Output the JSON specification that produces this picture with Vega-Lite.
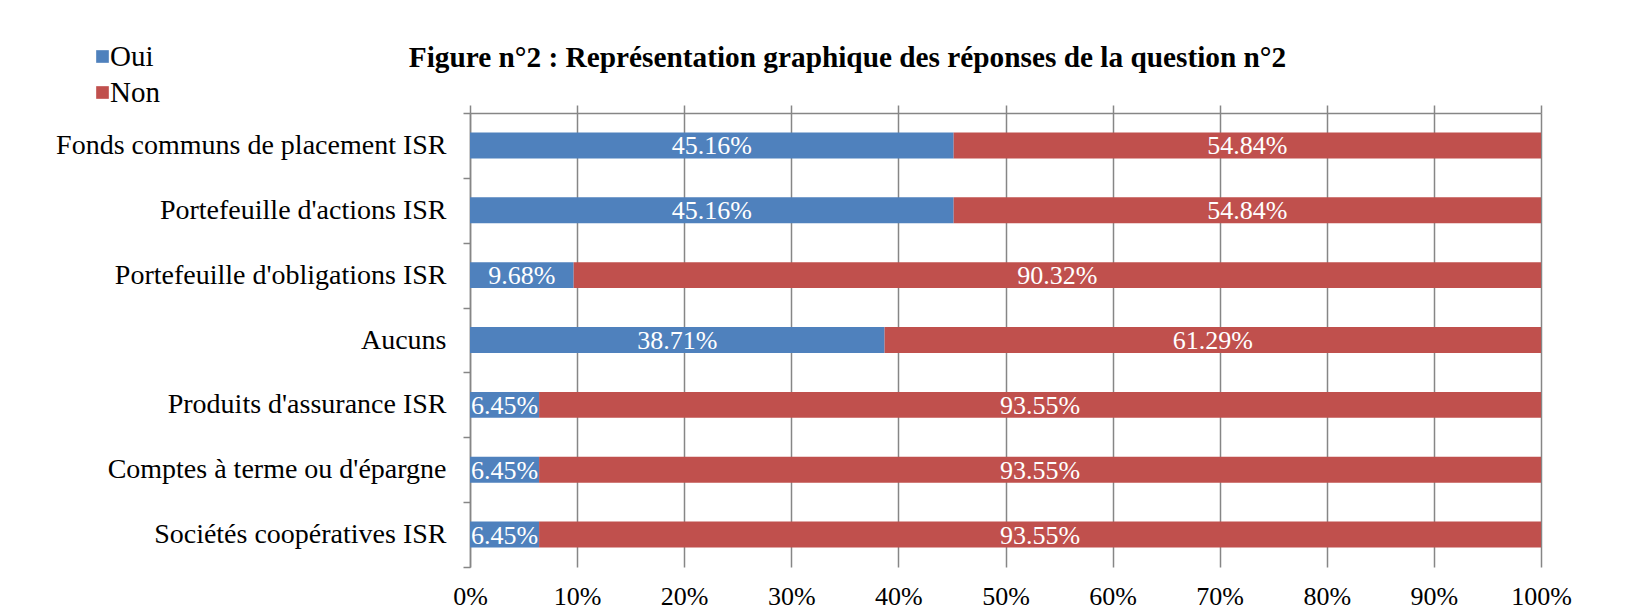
{
  "$schema": "https://vega.github.io/schema/vega-lite/v6.json",
  "width": 1071,
  "height": 454,
  "autosize": {"type": "none"},
  "padding": {"left": 470, "top": 113, "right": 111, "bottom": 43},
  "background": "white",
  "title": {
    "text": "Figure n°2 : Représentation graphique des réponses de la question n°2",
    "font": "Liberation Serif",
    "fontSize": 29.3,
    "fontWeight": "bold",
    "color": "black",
    "anchor": "middle",
    "dx": -158,
    "dy": 62,
    "baseline": "alphabetic",
    "offset": 8
  },
  "config": {
    "view": {"stroke": null},
    "font": "Liberation Serif"
  },
  "data": {
    "values": [
      {"categorie": "Fonds communs de placement ISR", "reponse": "Oui", "pct": 45.16},
      {"categorie": "Fonds communs de placement ISR", "reponse": "Non", "pct": 54.84},
      {"categorie": "Portefeuille d'actions ISR", "reponse": "Oui", "pct": 45.16},
      {"categorie": "Portefeuille d'actions ISR", "reponse": "Non", "pct": 54.84},
      {"categorie": "Portefeuille d'obligations ISR", "reponse": "Oui", "pct": 9.68},
      {"categorie": "Portefeuille d'obligations ISR", "reponse": "Non", "pct": 90.32},
      {"categorie": "Aucuns\u2002", "reponse": "Oui", "pct": 38.71},
      {"categorie": "Aucuns\u2002", "reponse": "Non", "pct": 61.29},
      {"categorie": "Produits d'assurance ISR", "reponse": "Oui", "pct": 6.45},
      {"categorie": "Produits d'assurance ISR", "reponse": "Non", "pct": 93.55},
      {"categorie": "Comptes à terme ou d'épargne", "reponse": "Oui", "pct": 6.45},
      {"categorie": "Comptes à terme ou d'épargne", "reponse": "Non", "pct": 93.55},
      {"categorie": "Sociétés coopératives ISR", "reponse": "Oui", "pct": 6.45},
      {"categorie": "Sociétés coopératives ISR", "reponse": "Non", "pct": 93.55}
    ]
  },
  "transform": [
    {"stack": "pct", "groupby": ["categorie"], "sort": [{"field": "reponse", "order": "descending"}], "as": ["x0", "x1"]},
    {"calculate": "(datum.x0 + datum.x1) / 2", "as": "xmid"},
    {"calculate": "format(datum.pct, '.2f') + '%'", "as": "etiquette"}
  ],
  "layer": [
    {
      "mark": {"type": "bar", "height": {"band": 0.4}},
      "encoding": {
        "y": {
          "field": "categorie",
          "type": "nominal",
          "sort": null,
          "scale": {"paddingInner": 0, "paddingOuter": 0},
          "axis": {
            "title": null,
            "tickBand": "extent",
            "domainColor": "#868686",
            "domainWidth": 1.5,
            "tickColor": "#868686",
            "tickWidth": 1.5,
            "tickSize": 7,
            "labelPadding": 17,
            "labelFont": "Liberation Serif",
            "labelFontSize": 28,
            "labelColor": "black",
            "labelLimit": 500,
            "grid": false
          }
        },
        "x": {
          "field": "x0",
          "type": "quantitative",
          "scale": {"domain": [0, 100], "nice": false},
          "axis": {
            "orient": "bottom",
            "title": null,
            "values": [0, 10, 20, 30, 40, 50, 60, 70, 80, 90, 100],
            "labelExpr": "datum.value + '%'",
            "domain": false,
            "ticks": false,
            "grid": true,
            "gridColor": "#868686",
            "gridWidth": 1.5,
            "gridOpacity": 1,
            "labelFont": "Liberation Serif",
            "labelFontSize": 26,
            "labelColor": "black",
            "labelPadding": 16,
            "labelFlush": false
          }
        },
        "x2": {"field": "x1"},
        "color": {
          "field": "reponse",
          "type": "nominal",
          "scale": {"domain": ["Oui", "Non"], "range": ["#4F81BD", "#C0504D"]},
          "legend": {
            "title": null,
            "orient": "none",
            "legendX": -382,
            "legendY": -71,
            "symbolType": "square",
            "symbolSize": 160,
            "symbolStrokeWidth": 0,
            "labelFont": "Liberation Serif",
            "labelFontSize": 29,
            "labelColor": "black",
            "labelOffset": -7,
            "rowPadding": 6
          }
        }
      }
    },
    {
      "mark": {"type": "text", "color": "white", "font": "Liberation Serif", "fontSize": 26, "baseline": "middle", "align": "center", "dy": 1},
      "encoding": {
        "y": {"field": "categorie", "type": "nominal", "sort": null},
        "x": {
          "field": "xmid",
          "type": "quantitative",
          "axis": {
            "orient": "top",
            "title": null,
            "values": [0, 10, 20, 30, 40, 50, 60, 70, 80, 90, 100],
            "labels": false,
            "domain": true,
            "domainColor": "#868686",
            "domainWidth": 1.5,
            "ticks": true,
            "tickColor": "#868686",
            "tickWidth": 1.5,
            "tickSize": 8,
            "grid": false
          }
        },
        "text": {"field": "etiquette", "type": "nominal"}
      }
    }
  ],
  "resolve": {"axis": {"x": "independent"}}
}
